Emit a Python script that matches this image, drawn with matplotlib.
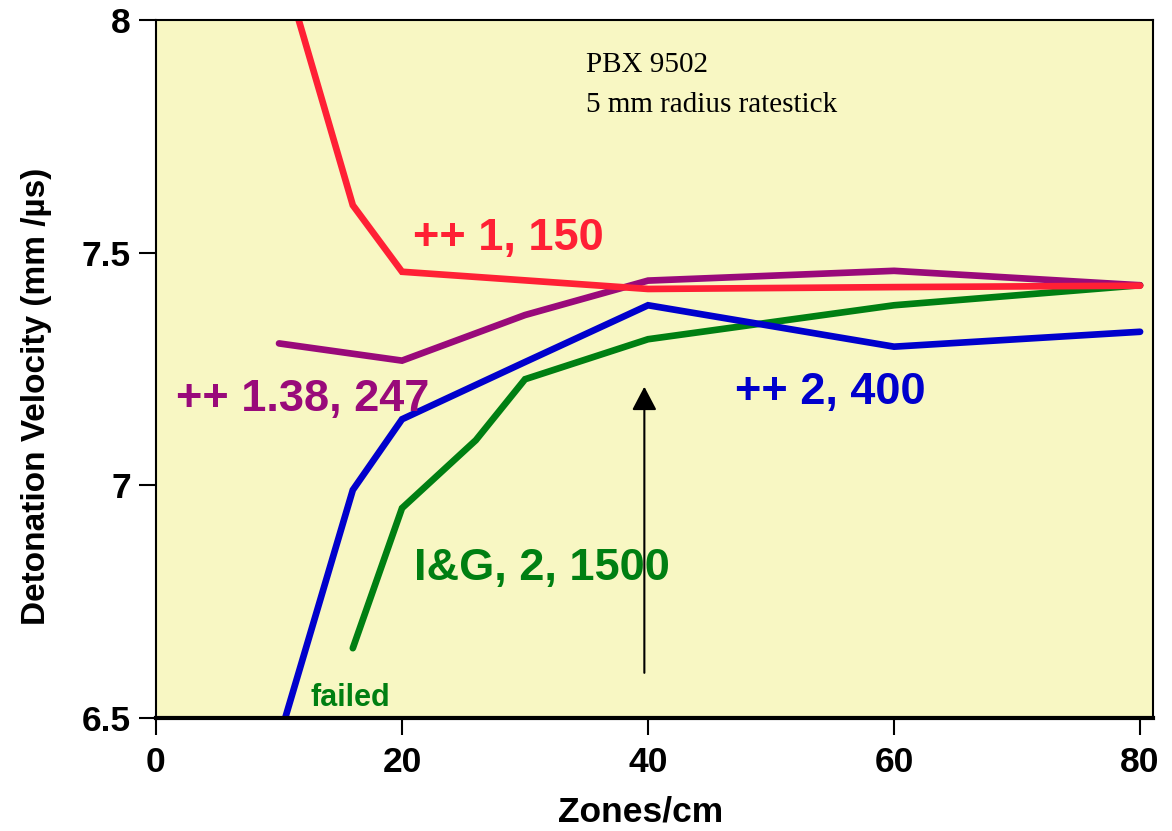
import matplotlib
matplotlib.use("Agg")
import matplotlib.pyplot as plt
import numpy as np

# Data
red_x = [10, 16, 20, 40, 60, 80]
red_y = [8.145, 7.602, 7.459, 7.422, 7.426, 7.429]

purple_x = [10, 20, 30, 40, 60, 80]
purple_y = [7.305, 7.268, 7.366, 7.440, 7.461, 7.430]

blue_x = [10, 16, 20, 30, 40, 60, 80]
blue_y = [6.455, 6.990, 7.142, 7.265, 7.387, 7.298, 7.330]

green_x = [16, 20, 26, 30, 40, 60, 80]
green_y = [6.650, 6.951, 7.097, 7.228, 7.314, 7.387, 7.430]

xticks = [0, 20, 40, 60, 80]
yticks = [6.5, 7, 7.5, 8]
ytick_labels = ["6.5", "7", "7.5", "8"]

RED = "#FF2035"
PURPLE = "#990A7A"
BLUE = "#0000CC"
GREEN = "#007F12"
BG = "#F8F7C3"

plt.rcParams['font.family'] = ['Liberation Sans', 'DejaVu Sans']

fig = plt.figure(figsize=(11.72, 8.31), dpi=100)
ax = fig.add_axes([0.1331, 0.136, 0.9838 - 0.1331, 0.9759 - 0.136])
ax.set_facecolor(BG)

lw = 4.8
for xs, ys, c in [(green_x, green_y, GREEN), (blue_x, blue_y, BLUE),
                  (purple_x, purple_y, PURPLE), (red_x, red_y, RED)]:
    ax.plot(xs, ys, color=c, lw=lw, solid_capstyle='round', solid_joinstyle='miter')

ax.set_xlim(0, 81.05)
ax.set_ylim(6.5, 8.0)
ax.set_xticks(xticks)
ax.set_xticklabels([str(t) for t in xticks])
ax.set_yticks(yticks)
ax.set_yticklabels(ytick_labels)
ax.tick_params(axis='both', direction='out', length=12, width=1.5, labelsize=25.5)
ax.tick_params(axis='x', pad=8)
ax.tick_params(axis='y', pad=6)
for lab in ax.get_xticklabels() + ax.get_yticklabels():
    lab.set_fontweight('bold')

for side in ['left', 'top', 'right']:
    ax.spines[side].set_linewidth(1.5)
ax.spines['bottom'].set_linewidth(3)

ax.set_xlabel("Zones/cm", fontsize=25.5, fontweight='bold')
ax.xaxis.set_label_coords(0.4865, -0.1108)
ax.set_ylabel("Detonation Velocity (mm /µs)", fontsize=24, fontweight='bold')
ax.yaxis.set_label_coords(-0.104, 0.4606)

big = 32.5
ax.text(20.89, 7.5057, "++ 1, 150", color=RED, fontsize=big, fontweight='bold', va='baseline')
ax.text(1.63, 7.1597, "++ 1.38, 247", color=PURPLE, fontsize=big, fontweight='bold', va='baseline')
ax.text(47.07, 7.1747, "++ 2, 400", color=BLUE, fontsize=big, fontweight='bold', va='baseline')
ax.text(21.0, 6.7965, "I&G, 2, 1500", color=GREEN, fontsize=big, fontweight='bold', va='baseline')
ax.text(12.52, 6.5257, "failed", color=GREEN, fontsize=22, fontweight='bold', va='baseline')

serif = ['Liberation Serif', 'DejaVu Serif']
ax.text(34.96, 7.8889, "PBX 9502", fontsize=21, family=serif, va='baseline')
ax.text(34.96, 7.8029, "5 mm radius ratestick", fontsize=21, family=serif, va='baseline')

ax.annotate("", xy=(39.7, 7.212), xytext=(39.7, 6.597),
            arrowprops=dict(arrowstyle="-|>,head_length=1.45,head_width=0.76",
                            color='black', lw=1.5, shrinkA=0, shrinkB=0))

fig.savefig("out.png", dpi=100)
